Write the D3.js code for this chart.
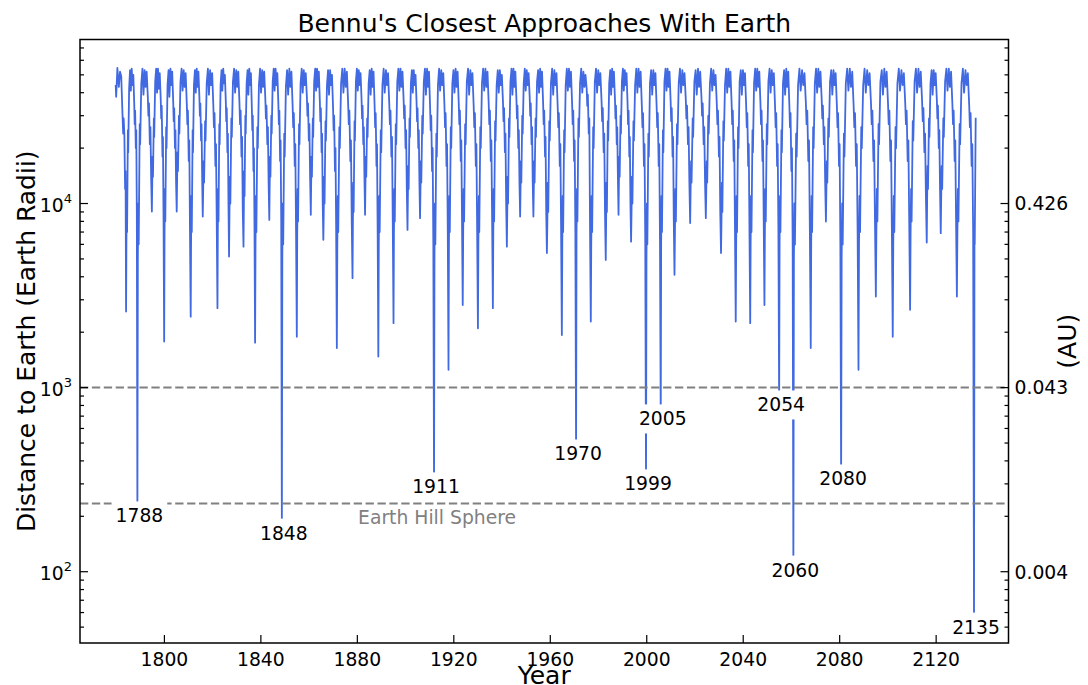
<!DOCTYPE html>
<html>
<head>
<meta charset="utf-8">
<script src="https://cdn.jsdelivr.net/npm/d3@7"></script>
<style>
  body { margin: 0; background: #fff; }
  svg { font-family: "DejaVu Sans", sans-serif; }
</style>
</head>
<body>
<div id="chart"></div>
<script>
// Closest-approach dips: year and distance (Earth radii)
const dipYears = [
  1784.1, 1788.8, 1794.8, 1799.9, 1805.1, 1810.9, 1815.9, 1822.0, 1826.8, 1832.8,
  1837.6, 1843.5, 1848.7, 1854.9, 1860.7, 1865.9, 1871.5, 1878.0, 1883.2, 1888.7,
  1895.0, 1900.8, 1906.0, 1911.8, 1917.8, 1923.7, 1930.0, 1936.2, 1942.0, 1947.5,
  1953.0, 1958.6, 1964.8, 1970.7, 1976.8, 1983.0, 1988.3, 1993.5, 1999.7, 2005.8,
  2011.5, 2018.0, 2024.5, 2030.8, 2036.9, 2042.9, 2048.8, 2054.9, 2060.8, 2068.0,
  2074.3, 2080.6, 2087.8, 2095.0, 2102.0, 2109.2, 2116.1, 2121.9, 2128.6, 2135.7
];
const dipDistances = [
  2590, 201, 9050, 1780, 9050, 2430, 8500, 2700, 5150, 5830,
  1755, 8150, 162, 1890, 8680, 6350, 1640, 3930, 8680, 1475,
  2240, 7190, 8330, 289, 1250, 2810, 2100, 2700, 5830, 8500,
  8500, 5380, 1930, 436, 2285, 4940, 8680, 6210, 300, 676,
  4100, 7830, 8330, 5380, 2285, 2240, 2810, 805, 102, 1640,
  7980, 319, 1250, 3125, 1890, 2645, 6140, 6900, 3125, 50
];

// Where, between two dips, the in-between readings sit (fraction of the gap)
const shapeFractions = [0.03, 0.06, 0.09, 0.16, 0.19, 0.27, 0.35, 0.42, 0.50, 0.57, 0.64, 0.72, 0.76, 0.80, 0.86, 0.90, 0.95];

// Readings between consecutive dips, thousands of Earth radii
const cycleShapesK = [
  [6, 11, 7, 25, 19, 42, 53, 41, 54, 44, 50, 35, 27, 32, 20, 25, 9],
  [5, 10, 6, 27, 21, 45, 54, 39, 53, 43, 52, 38, 30, 35, 21, 26, 14],
  [13, 18, 14, 29, 23, 46, 54, 40, 54, 42, 51, 37, 29, 34, 18, 23, 8],
  [7, 12, 8, 26, 20, 44, 53, 38, 54, 44, 52, 36, 28, 33, 20, 25, 13],
  [14, 19, 15, 30, 24, 46, 54, 41, 53, 43, 51, 35, 27, 32, 17, 22, 7],
  [6, 11, 7, 25, 19, 44, 53, 40, 54, 43, 52, 38, 30, 35, 22, 27, 14],
  [12, 17, 13, 28, 22, 45, 54, 39, 53, 44, 51, 34, 26, 31, 16, 21, 8],
  [7, 12, 8, 27, 21, 44, 53, 41, 54, 45, 50, 36, 28, 33, 19, 24, 10],
  [9, 14, 10, 29, 23, 46, 54, 40, 53, 43, 52, 35, 27, 32, 18, 23, 9],
  [10, 15, 11, 30, 24, 45, 53, 39, 54, 44, 51, 33, 25, 30, 15, 20, 7],
  [6, 11, 7, 26, 20, 44, 54, 40, 53, 43, 52, 37, 29, 34, 21, 26, 13],
  [13, 18, 14, 30, 24, 46, 54, 41, 54, 44, 51, 35, 27, 32, 17, 22, 8],
  [5, 10, 6, 24, 18, 43, 53, 39, 54, 43, 52, 34, 26, 31, 16, 21, 7],
  [7, 12, 8, 27, 21, 45, 54, 40, 53, 44, 51, 38, 30, 35, 22, 27, 14],
  [13, 18, 14, 29, 23, 46, 54, 41, 54, 43, 52, 36, 28, 33, 19, 24, 10],
  [9, 14, 10, 28, 22, 44, 53, 39, 53, 44, 50, 33, 25, 30, 15, 20, 7],
  [6, 11, 7, 26, 20, 45, 54, 40, 54, 43, 52, 35, 27, 32, 17, 22, 8],
  [8, 13, 9, 28, 22, 46, 54, 41, 53, 44, 51, 37, 29, 34, 21, 26, 14],
  [13, 18, 14, 29, 23, 45, 53, 39, 54, 43, 52, 34, 26, 31, 16, 21, 7],
  [6, 11, 7, 25, 19, 44, 54, 40, 53, 44, 51, 35, 27, 32, 18, 23, 8],
  [7, 12, 8, 27, 21, 46, 54, 41, 54, 43, 52, 37, 29, 34, 20, 25, 12],
  [11, 16, 12, 29, 23, 45, 53, 40, 53, 44, 50, 36, 28, 33, 20, 25, 13],
  [12, 17, 13, 30, 24, 46, 54, 39, 54, 43, 52, 33, 25, 30, 15, 20, 6],
  [5, 10, 6, 24, 18, 44, 54, 41, 53, 44, 51, 34, 26, 31, 16, 21, 7],
  [6, 11, 7, 26, 20, 45, 53, 40, 54, 43, 52, 35, 27, 32, 17, 22, 8],
  [7, 12, 8, 27, 21, 46, 54, 39, 53, 44, 51, 34, 26, 31, 16, 21, 7],
  [6, 11, 7, 26, 20, 45, 54, 41, 54, 43, 52, 35, 27, 32, 17, 22, 8],
  [7, 12, 8, 28, 22, 44, 53, 40, 53, 44, 50, 36, 28, 33, 19, 24, 10],
  [9, 14, 10, 29, 23, 46, 54, 39, 54, 43, 52, 37, 29, 34, 20, 25, 13],
  [12, 17, 13, 30, 24, 45, 54, 41, 53, 44, 51, 38, 30, 35, 21, 26, 13],
  [12, 17, 13, 29, 23, 46, 53, 40, 54, 43, 52, 35, 27, 32, 18, 23, 9],
  [8, 13, 9, 28, 22, 45, 54, 39, 53, 44, 51, 34, 26, 31, 16, 21, 7],
  [6, 11, 7, 25, 19, 44, 54, 41, 54, 43, 52, 35, 27, 32, 17, 22, 7],
  [7, 12, 8, 29, 23, 45, 54, 40, 52, 43, 50, 42, 34, 39, 24, 29, 7],
  [6, 11, 7, 26, 20, 46, 54, 40, 53, 44, 51, 36, 28, 33, 19, 24, 9],
  [8, 13, 9, 28, 22, 45, 53, 39, 54, 43, 52, 37, 29, 34, 21, 26, 14],
  [13, 18, 14, 30, 24, 46, 54, 41, 53, 44, 51, 35, 27, 32, 18, 23, 10],
  [9, 14, 10, 28, 22, 44, 54, 40, 54, 43, 52, 34, 26, 31, 16, 21, 6],
  [5, 10, 6, 24, 18, 45, 53, 39, 53, 44, 51, 34, 26, 31, 16, 21, 6],
  [6, 11, 7, 25, 19, 46, 54, 41, 54, 43, 52, 36, 28, 33, 18, 23, 8],
  [7, 12, 8, 27, 21, 45, 54, 40, 53, 44, 51, 37, 29, 34, 21, 26, 13],
  [12, 17, 13, 29, 23, 46, 53, 39, 54, 43, 52, 38, 30, 35, 21, 26, 13],
  [12, 17, 13, 30, 24, 45, 54, 41, 53, 44, 50, 35, 27, 32, 18, 23, 9],
  [8, 13, 9, 28, 22, 44, 54, 40, 54, 43, 52, 35, 27, 32, 17, 22, 7],
  [6, 11, 7, 26, 20, 46, 53, 39, 53, 44, 51, 34, 26, 31, 16, 21, 7],
  [6, 11, 7, 25, 19, 45, 54, 41, 54, 43, 52, 35, 27, 32, 17, 22, 8],
  [7, 12, 8, 27, 21, 46, 54, 40, 53, 44, 51, 34, 26, 31, 16, 21, 7],
  [6, 11, 7, 25, 19, 45, 53, 39, 54, 43, 52, 34, 26, 31, 15, 20, 6],
  [5, 10, 6, 24, 18, 44, 54, 41, 53, 44, 51, 35, 27, 32, 17, 22, 7],
  [6, 11, 7, 26, 20, 45, 54, 40, 54, 43, 52, 37, 29, 34, 21, 26, 13],
  [12, 17, 13, 29, 23, 46, 53, 39, 53, 44, 51, 34, 26, 31, 16, 21, 6],
  [5, 10, 6, 24, 18, 45, 54, 41, 54, 43, 52, 34, 26, 31, 16, 21, 7],
  [6, 11, 7, 26, 20, 44, 54, 40, 53, 44, 51, 35, 27, 32, 17, 22, 8],
  [7, 12, 8, 27, 21, 46, 53, 39, 54, 43, 52, 35, 27, 32, 17, 22, 7],
  [6, 11, 7, 26, 20, 45, 54, 41, 53, 44, 51, 35, 27, 32, 17, 22, 8],
  [7, 12, 8, 28, 22, 46, 54, 40, 54, 43, 52, 36, 28, 33, 19, 24, 11],
  [11, 16, 12, 29, 23, 45, 53, 39, 53, 44, 51, 37, 29, 34, 20, 25, 12],
  [11, 16, 12, 29, 23, 46, 54, 41, 54, 43, 52, 35, 27, 32, 17, 22, 8],
  [7, 12, 8, 27, 21, 45, 54, 40, 53, 44, 51, 34, 26, 31, 16, 21, 7]
];

// Start and end of the track: [year, distance]
const leadIn = [
  [1779.8, 44000], [1780.0, 38000], [1780.5, 54500], [1781.1, 43000],
  [1781.6, 52000], [1782.1, 49000], [1782.6, 31000], [1782.9, 24000],
  [1783.1, 29000], [1783.4, 23600], [1783.7, 12000], [1783.9, 15000]
];
const tailOut = [[2135.9, 7500], [2136.0, 6000], [2136.4, 29200]];

const approachLabels = ['1788', '1848', '1911', '1970', '1999', '2005', '2054', '2060', '2080', '2135'];
const xTickYears = [1800, 1840, 1880, 1920, 1960, 2000, 2040, 2080, 2120];
const hillSphereRadii = 235;
const referenceRadii = 1000;
const auPerEarthRadius = 6371 / 149597870.7;

const width = 1088, height = 685;
const margin = { top: 39.5, right: 79.5, bottom: 42, left: 80 };
const w = width - margin.left - margin.right;
const h = height - margin.top - margin.bottom;
const blue = '#4169e1';
const smallFont = '18.75px';
const bigFont = '25px';

const series = leadIn.slice();
dipYears.forEach((yr, i) => {
  series.push([yr, dipDistances[i]]);
  if (i < cycleShapesK.length) {
    const gap = dipYears[i + 1] - yr;
    cycleShapesK[i].forEach((k, j) => series.push([yr + gap * shapeFractions[j], k * 1000]));
  }
});
tailOut.forEach((p) => series.push(p));

const x = d3.scaleLinear().domain([1765, 2150]).range([0, w]);
const y = d3.scaleLog().domain([41, 77800]).range([h, 0]);

const svg = d3.select('#chart').append('svg')
  .attr('width', width).attr('height', height);

svg.append('defs').append('clipPath').attr('id', 'plot-clip')
  .append('rect').attr('width', w).attr('height', h);

const g = svg.append('g').attr('transform', `translate(${margin.left},${margin.top})`);

// Distance track
g.append('path')
  .datum(series)
  .attr('clip-path', 'url(#plot-clip)')
  .attr('fill', 'none')
  .attr('stroke', blue)
  .attr('stroke-width', 1.8)
  .attr('stroke-linejoin', 'round')
  .attr('d', d3.line().x((d) => x(d[0])).y((d) => y(d[1])));

// Reference lines
[referenceRadii, hillSphereRadii].forEach((v) => {
  g.append('line')
    .attr('x1', 0).attr('x2', w)
    .attr('y1', y(v)).attr('y2', y(v))
    .attr('stroke', '#808080')
    .attr('stroke-width', 2)
    .attr('stroke-dasharray', '8.3,3.6');
});

g.append('text')
  .attr('x', x(1880.3))
  .attr('y', y(hillSphereRadii) + 21)
  .attr('fill', '#808080')
  .attr('font-size', smallFont)
  .text('Earth Hill Sphere');

// Axes (ticks pointing inward)
const yTicks = y.ticks();
const isMajor = (v) => Math.abs(Math.log10(v) - Math.round(Math.log10(v))) < 1e-6;

g.selectAll('.xtick').data(xTickYears).join('line')
  .attr('x1', (d) => x(d)).attr('x2', (d) => x(d))
  .attr('y1', h).attr('y2', h - 8)
  .attr('stroke', '#000').attr('stroke-width', 1.2);

g.selectAll('.xlabel').data(xTickYears).join('text')
  .attr('x', (d) => x(d))
  .attr('y', h + 23)
  .attr('text-anchor', 'middle')
  .attr('font-size', smallFont)
  .text((d) => d);

[0, w].forEach((sx) => {
  const dir = sx === 0 ? 1 : -1;
  g.selectAll(null).data(yTicks).join('line')
    .attr('x1', sx).attr('x2', (d) => sx + dir * (isMajor(d) ? 8 : 4))
    .attr('y1', (d) => y(d)).attr('y2', (d) => y(d))
    .attr('stroke', '#000').attr('stroke-width', 1.2);
});

const majors = yTicks.filter(isMajor);

const leftLabels = g.selectAll('.ylabel').data(majors).join('text')
  .attr('x', -8)
  .attr('y', (d) => y(d) + 8)
  .attr('text-anchor', 'end')
  .attr('font-size', smallFont);
leftLabels.append('tspan').text('10');
leftLabels.append('tspan')
  .attr('font-size', '13px')
  .attr('dy', -8.5)
  .text((d) => Math.round(Math.log10(d)));

g.selectAll('.rlabel').data(majors).join('text')
  .attr('x', w + 6)
  .attr('y', (d) => y(d) + 6.8)
  .attr('font-size', smallFont)
  .text((d) => (d * auPerEarthRadius).toFixed(3));

// Spines
g.append('rect')
  .attr('width', w).attr('height', h)
  .attr('fill', 'none')
  .attr('stroke', '#000')
  .attr('stroke-width', 1.5);

// Titles
svg.append('text')
  .attr('x', margin.left + w / 2).attr('y', 32)
  .attr('text-anchor', 'middle')
  .attr('font-size', bigFont)
  .text("Bennu's Closest Approaches With Earth");

svg.append('text')
  .attr('x', margin.left + w / 2).attr('y', 684)
  .attr('text-anchor', 'middle')
  .attr('font-size', bigFont)
  .text('Year');

svg.append('text')
  .attr('transform', `translate(35,${margin.top + h / 2}) rotate(-90)`)
  .attr('text-anchor', 'middle')
  .attr('font-size', bigFont)
  .text('Distance to Earth (Earth Radii)');

svg.append('text')
  .attr('transform', `translate(1076,${margin.top + h / 2}) rotate(-90)`)
  .attr('text-anchor', 'middle')
  .attr('font-size', bigFont)
  .text('(AU)');

// Approach labels with white boxes
approachLabels.forEach((lab) => {
  const i = dipYears.findIndex((yr) => Math.floor(yr) === +lab);
  if (i < 0) return;
  const lg = g.append('g');
  const t = lg.append('text')
    .attr('x', x(dipYears[i]) + 2)
    .attr('y', y(dipDistances[i]))
    .attr('text-anchor', 'middle')
    .attr('dominant-baseline', 'central')
    .attr('font-size', smallFont)
    .text(lab);
  const bb = t.node().getBBox();
  const pad = 4;
  lg.insert('rect', 'text')
    .attr('x', bb.x - pad).attr('y', bb.y - pad)
    .attr('width', bb.width + 2 * pad).attr('height', bb.height + 2 * pad)
    .attr('fill', '#fff');
});
</script>
</body>
</html>
